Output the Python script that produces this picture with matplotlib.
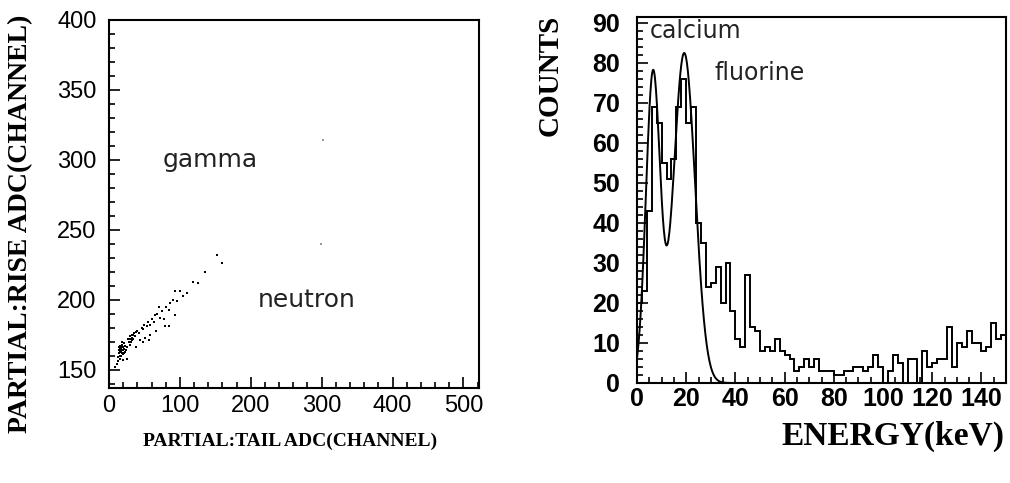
import numpy as np
import matplotlib
matplotlib.use("Agg")
import matplotlib.pyplot as plt
from matplotlib.ticker import MultipleLocator

# left panel: partial rise vs partial tail ADC (scatter)
tail_adc = [14, 15, 16, 17, 18, 19, 20, 16, 18, 21, 17, 19, 15, 22, 20, 13, 14, 23, 12, 11,
            16, 24, 21, 18, 17, 19, 16, 20, 18, 15, 17, 21, 19, 14,
            28, 30, 32, 33, 35, 31, 34, 29, 36, 27, 38, 26, 32, 30, 34,
            40, 42, 44, 46, 48, 50, 51, 53, 55, 58, 58, 60, 63, 65, 68, 70, 72, 75, 77, 79,
            80, 84, 86, 90, 93, 93, 96, 100, 104, 110, 118, 125, 135, 152, 160, 84, 67, 56,
            48, 38, 25, 20, 9,
            302, 299]
rise_adc = [162, 164, 163, 165, 166, 164, 166, 167, 162, 165, 160, 168, 160, 163, 161, 159, 166, 167, 156, 154,
            158, 164, 169, 170, 163, 162, 165, 164, 168, 163, 166, 162, 166, 164,
            170, 172, 173, 175, 176, 170, 172, 168, 174, 172, 177, 166, 171, 174, 175,
            178, 176, 171, 180, 179, 182, 173, 181, 184, 182, 175, 186, 184, 189, 190, 195, 187, 192, 186, 181,
            195, 193, 198, 200, 189, 206, 199, 206, 203, 205, 213, 212, 220, 232, 226, 181, 178, 171,
            170, 166, 158, 157, 152,
            314, 240]

# right panel: energy spectrum, 2 keV bins from 0 to 150 keV
bin_edges = np.arange(0, 151, 2)
counts = [20, 23, 43, 69, 65, 55, 51, 56, 69, 76, 65, 69, 40, 35, 24, 25, 29, 20, 30, 18,
          11, 9, 27, 14, 13, 8, 9, 8, 11, 8, 7, 6, 3, 4, 6, 4, 6, 3, 3, 3,
          2, 2, 3, 3, 4, 4, 3, 4, 7, 4, 0, 3, 7, 5, 0, 6, 6, 0, 8, 4,
          5, 6, 6, 14, 4, 10, 9, 13, 10, 10, 8, 9, 15, 11, 12]

# two-gaussian fit (calcium, fluorine): amplitude, centre (keV), sigma (keV)
fit_amp = [77.0, 82.5]
fit_mean = [6.5, 19.2]
fit_sigma = [2.9, 4.4]

label_font = "Liberation Serif"
tick_font = "Liberation Sans"
note_font = "DejaVu Sans"

fig = plt.figure(figsize=(10.10, 4.83), dpi=100)

# ---- left panel ----
ax1 = fig.add_axes([109 / 1010, 1 - 388 / 483, 370 / 1010, 368 / 483])
ax1.scatter(tail_adc[:-2], rise_adc[:-2], s=3.5, c="black", marker="s", linewidths=0)
ax1.scatter(tail_adc[-2:], rise_adc[-2:], s=1.2, c="#999999", marker="s", linewidths=0)
ax1.set_xlim(0, 522)
ax1.set_ylim(137, 400)
ax1.xaxis.set_major_locator(MultipleLocator(100))
ax1.xaxis.set_minor_locator(MultipleLocator(20))
ax1.yaxis.set_major_locator(MultipleLocator(50))
ax1.yaxis.set_minor_locator(MultipleLocator(10))
ax1.text(143, 300, "gamma", fontsize=18, family=note_font, ha="center", va="center", color="#222222")
ax1.text(279, 200, "neutron", fontsize=18, family=note_font, ha="center", va="center", color="#222222")

# ---- right panel ----
ax2 = fig.add_axes([637 / 1010, 1 - 383 / 483, 369 / 1010, 366 / 483])
ax2.stairs(counts, bin_edges, color="black", linewidth=1.4, baseline=0)
e = np.linspace(0, 150, 800)
fit = sum(a * np.exp(-(e - m) ** 2 / (2 * s ** 2)) for a, m, s in zip(fit_amp, fit_mean, fit_sigma))
ax2.plot(e, fit, color="black", linewidth=1.4)
ax2.set_xlim(0, 150)
ax2.set_ylim(0, 91.5)
ax2.xaxis.set_major_locator(MultipleLocator(20))
ax2.xaxis.set_minor_locator(MultipleLocator(5))
ax2.yaxis.set_major_locator(MultipleLocator(10))
ax2.yaxis.set_minor_locator(MultipleLocator(2))
ax2.text(23.8, 88, "calcium", fontsize=17, family=note_font, ha="center", va="center", color="#222222")
ax2.text(50.0, 77.5, "fluorine", fontsize=17, family=note_font, ha="center", va="center", color="#222222")

for ax, lsize, lweight, ypad, xpad in [(ax1, 17, "normal", 9, 5), (ax2, 18, "bold", 12, 3)]:
    for sp in ax.spines.values():
        sp.set_linewidth(1.5)
    ax.tick_params(which="both", direction="in", top=False, right=False, width=1.2)
    ax.tick_params(which="major", length=8)
    ax.tick_params(which="minor", length=4)
    ax.tick_params(axis="y", pad=ypad)
    ax.tick_params(axis="x", pad=xpad)
    for lab in ax.get_xticklabels() + ax.get_yticklabels():
        lab.set_family(tick_font)
        lab.set_fontsize(lsize)
        lab.set_weight(lweight)

fig.text(21 / 1010, 1 - 224 / 483, "PARTIAL:RISE ADC(CHANNEL)", rotation=90, family=label_font,
         weight="bold", fontsize=20, ha="center", va="center")
fig.text(290 / 1010, 1 - 441 / 483, "PARTIAL:TAIL ADC(CHANNEL)", family=label_font,
         weight="bold", fontsize=14, ha="center", va="center")
fig.text(550 / 1010, 1 - 75 / 483, "COUNTS", rotation=90, family=label_font,
         weight="bold", fontsize=21, ha="center", va="center")
fig.text(893 / 1010, 1 - 436 / 483, "ENERGY(keV)", family=label_font,
         weight="bold", fontsize=24, ha="center", va="center")

fig.savefig("out.png", dpi=100)
